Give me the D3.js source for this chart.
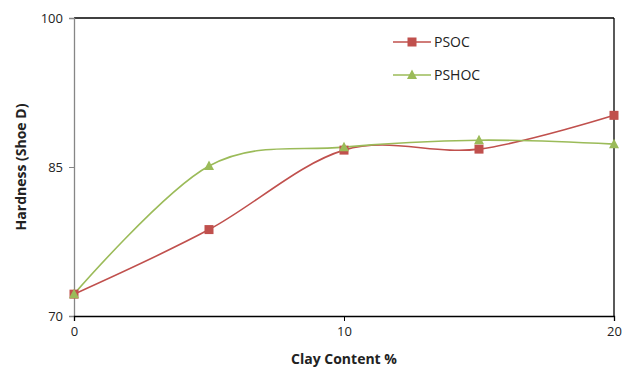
<!DOCTYPE html>
<html><head><meta charset="utf-8">
<script src="https://cdn.jsdelivr.net/npm/d3@7"></script>
<style>body{margin:0;background:#fff;}svg{display:block;font-family:"Open Sans","Liberation Sans",sans-serif;}</style>
</head><body>
<svg id="c" width="622" height="369"></svg>
<script>
const clayContent = [0, 5, 10, 15, 20];
const psoc = [72.2, 78.7, 86.7, 86.8, 90.2];
const pshoc = [72.2, 85.1, 87.0, 87.7, 87.3];
const xTicks = [0, 10, 20];
const yTicks = [70, 85, 100];
const seriesNames = ["PSOC", "PSHOC"];
const seriesColors = ["#C0504D", "#9BBB59"];

const svg = d3.select("#c");
const m = {l:74, r:614, t:18, b:316};
const x = d3.scaleLinear().domain([0,20]).range([m.l, m.r]);
const y = d3.scaleLinear().domain([70,100]).range([m.b, m.t]);

// frame top/right
svg.append("line").attr("x1",m.l).attr("x2",m.r).attr("y1",m.t).attr("y2",m.t).attr("stroke","#000").attr("stroke-width",1.3);
svg.append("line").attr("x1",m.r).attr("x2",m.r).attr("y1",m.t).attr("y2",m.b).attr("stroke","#000").attr("stroke-width",1.3);

// y axis
const ya = svg.append("g").attr("transform",`translate(${m.l},0)`)
  .call(d3.axisLeft(y).tickValues(yTicks).tickSize(5).tickPadding(6).tickFormat(d3.format("d")));
ya.select(".domain").attr("stroke","#868686").attr("stroke-width",1.3);
ya.selectAll(".tick line").attr("stroke","#868686");
ya.selectAll("text").attr("font-size",13).attr("fill","#222").attr("font-family","'Open Sans',sans-serif");

// x axis
const xa = svg.append("g").attr("transform",`translate(0,${m.b})`)
  .call(d3.axisBottom(x).tickValues(xTicks).tickSize(5).tickPadding(6).tickFormat(d3.format("d")));
xa.select(".domain").attr("stroke","#000").attr("stroke-width",1.3);
xa.selectAll(".tick line").attr("stroke","#000");
xa.selectAll("text").attr("font-size",13).attr("fill","#222").attr("font-family","'Open Sans',sans-serif");

// titles
svg.append("text").attr("x",344).attr("y",364).attr("text-anchor","middle")
  .attr("font-size",14).attr("font-weight","bold").attr("fill","#222").text("Clay Content %");
svg.append("text").attr("transform","translate(26,167) rotate(-90)").attr("text-anchor","middle")
  .attr("font-size",14).attr("font-weight","bold").attr("fill","#222").text("Hardness (Shoe D)");

const line = d3.line().x((d,i)=>x(clayContent[i])).y(d=>y(d)).curve(d3.curveCatmullRom.alpha(0));
const data = [psoc, pshoc];

function marker(g, type, cx, cy, color){
  if(type===0){
    g.append("rect").attr("x",cx-4.5).attr("y",cy-4.5).attr("width",9).attr("height",9).attr("fill",color);
  } else {
    g.append("path").attr("d",`M${cx},${cy-5.5}L${cx+5},${cy+4}L${cx-5},${cy+4}Z`).attr("fill",color);
  }
}

data.forEach((s,k)=>{
  svg.append("path").datum(s).attr("d",line).attr("fill","none").attr("stroke",seriesColors[k]).attr("stroke-width",1.6);
});
data.forEach((s,k)=>{
  const g = svg.append("g");
  s.forEach((v,i)=>marker(g,k,x(clayContent[i]),y(v),seriesColors[k]));
});

// legend
const legY = [42, 75];
seriesNames.forEach((n,k)=>{
  svg.append("line").attr("x1",393).attr("x2",431).attr("y1",legY[k]).attr("y2",legY[k]).attr("stroke",seriesColors[k]).attr("stroke-width",1.6);
  marker(svg,k,412,legY[k],seriesColors[k]);
  svg.append("text").attr("x",434).attr("y",legY[k]+5).attr("font-size",14).attr("fill","#222").text(n);
});
</script>
</body></html>
